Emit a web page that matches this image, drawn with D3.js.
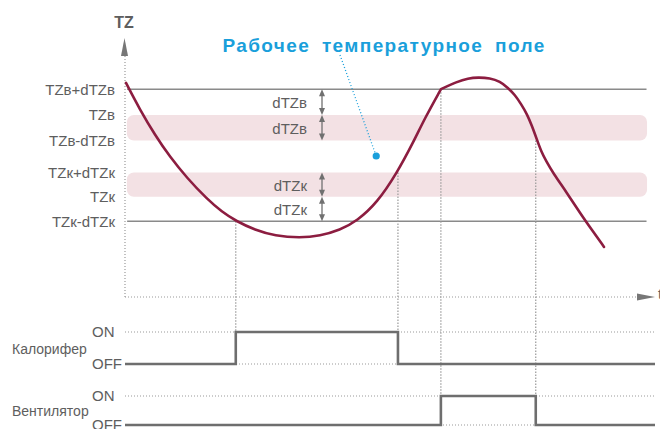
<!DOCTYPE html>
<html>
<head>
<meta charset="utf-8">
<script src="https://cdn.jsdelivr.net/npm/d3@7"></script>
<style>
  html, body { margin: 0; padding: 0; background: #fff; }
  svg { display: block; font-family: "Liberation Sans", Arial, sans-serif; }
</style>
</head>
<body>
<svg id="chart" width="660" height="429"></svg>
<script>
// Temperature levels (in dTZ units) and their labels
const levelLabels = ["TZк-dTZк", "TZк", "TZк+dTZк", "TZв-dTZв", "TZв", "TZв+dTZв"];
const levelValues = [0, 1, 2, 3.3, 4.35, 5.4];

// Shaded tolerance bands [low, high]
const bandLow  = [3.3, 1];
const bandHigh = [4.35, 2];

// dTZ spans drawn as double arrows
const spanFrom   = [5.4, 4.35, 2, 1];
const spanTo     = [4.35, 3.3, 1, 0];
const spanLabels = ["dTZв", "dTZв", "dTZк", "dTZк"];

// Room temperature over time (the fan switch-on moment is repeated to keep its corner sharp)
const curveT = [0.19, 2.83, 5.66, 8.49, 11.70, 15.47, 18.30, 20.94, 24.53, 28.30, 33.02, 36.79, 40.57, 43.77,
                47.55, 51.32, 54.34, 56.60, 59.62, 59.62, 59.62,
                62.64, 64.72, 66.60, 68.87, 70.75, 72.26, 73.58, 74.72, 75.85, 76.79, 77.74,
                78.49, 79.43, 80.75, 83.40, 85.85, 88.11, 90.38];
const curveV = [5.66, 4.56, 3.53, 2.63, 1.77, 0.91, 0.38, 0.01, -0.36, -0.60, -0.68, -0.60, -0.36, 0.01,
                0.75, 1.98, 3.21, 4.23, 5.41, 5.41, 5.41,
                5.71, 5.85, 5.89, 5.86, 5.72, 5.46, 5.17, 4.80, 4.39, 3.90, 3.33,
                2.88, 2.47, 1.98, 1.16, 0.34, -0.36, -1.05];

// Heater (Калорифер) and fan (Вентилятор) switching
const heaterT = [0, 20.9, 51.5, 100];
const heaterS = ["OFF", "ON", "OFF", "OFF"];
const fanT = [0, 59.6, 77.5, 100];
const fanS = ["OFF", "ON", "OFF", "OFF"];

// Switching events: time, temperature level that triggers it, device, state line the guide reaches
const eventT = [20.9, 51.5, 59.6, 77.5];
const eventV = [0, 2, 5.4, 3.3];
const eventDev = ["heater", "heater", "fan", "fan"];
const eventState = ["ON", "OFF", "OFF", "OFF"];

const states = ["ON", "OFF"];

const svg = d3.select("#chart");

const x = d3.scaleLinear().domain([0, 100]).range([125, 655]);
const y = d3.scaleLinear().domain([-3.1, 7.5]).range([297, 38]);
const yHeater = d3.scalePoint().domain(states).range([332, 364]);
const yFan = d3.scalePoint().domain(states).range([396, 425]);
const devScale = { heater: yHeater, fan: yFan };

const gray = "#5e5e5e";
const lineGray = "#8a8a8a";
const dotGray = "#999";
const curveColor = "#8c1d40";
const blue = "#1a9fdb";

// Tolerance bands
svg.append("g").selectAll("rect")
  .data(d3.range(bandLow.length))
  .join("rect")
  .attr("x", x(0.35))
  .attr("width", x(98.5) - x(0.35))
  .attr("y", i => y(bandHigh[i]))
  .attr("height", i => y(bandLow[i]) - y(bandHigh[i]))
  .attr("rx", 7)
  .attr("fill", "#f3e1e4");

// Limit lines
const limits = [levelValues[0], levelValues[5]];
svg.append("g").selectAll("line")
  .data(limits)
  .join("line")
  .attr("x1", x(0.4)).attr("x2", x(98.4))
  .attr("y1", d => y(d)).attr("y2", d => y(d))
  .attr("stroke", lineGray).attr("stroke-width", 1.5);

// Level labels
svg.append("g").selectAll("text")
  .data(levelValues)
  .join("text")
  .attr("x", 115)
  .attr("y", d => y(d))
  .attr("dy", "0.35em")
  .attr("text-anchor", "end")
  .attr("font-size", 15)
  .attr("fill", gray)
  .text((d, i) => levelLabels[i]);

// Axes (dotted) with arrowheads
svg.append("line")
  .attr("x1", x(0)).attr("x2", x(0))
  .attr("y1", y(-3.1)).attr("y2", 56)
  .attr("stroke", dotGray).attr("stroke-width", 1.2).attr("stroke-dasharray", "1,2");
svg.append("path")
  .attr("d", `M${x(0) - 0.5},38 L${x(0) + 3},56 L${x(0) - 4},56 Z`)
  .attr("fill", "#777");
svg.append("text")
  .attr("x", x(0) - 1).attr("y", 28)
  .attr("text-anchor", "middle")
  .attr("font-size", 16).attr("font-weight", "bold")
  .attr("fill", gray).text("TZ");

svg.append("line")
  .attr("x1", x(0)).attr("x2", 637)
  .attr("y1", y(-3.1)).attr("y2", y(-3.1))
  .attr("stroke", dotGray).attr("stroke-width", 1.2).attr("stroke-dasharray", "1,2");
svg.append("path")
  .attr("d", `M637,${y(-3.1) - 3.5} L655,${y(-3.1)} L637,${y(-3.1) + 3.5} Z`)
  .attr("fill", "#777");
svg.append("text")
  .attr("x", 658).attr("y", y(-3.1) + 2)
  .attr("font-size", 15).attr("fill", gray).text("t");

// Switching event guides
svg.append("g").selectAll("line")
  .data(d3.range(eventT.length))
  .join("line")
  .attr("x1", i => x(eventT[i])).attr("x2", i => x(eventT[i]))
  .attr("y1", i => y(eventV[i]))
  .attr("y2", i => devScale[eventDev[i]](eventState[i]))
  .attr("stroke", dotGray).attr("stroke-width", 1.2).attr("stroke-dasharray", "1.5,1.5");

// dTZ double arrows and labels
const arrowX = 322;
const spans = svg.append("g");
d3.range(spanFrom.length).forEach(i => {
  const y1 = y(spanFrom[i]), y2 = y(spanTo[i]);
  spans.append("line")
    .attr("x1", arrowX).attr("x2", arrowX)
    .attr("y1", y1 + 3).attr("y2", y2 - 3)
    .attr("stroke", "#707070").attr("stroke-width", 1.3);
  spans.append("path")
    .attr("d", `M${arrowX},${y1} L${arrowX + 3},${y1 + 7} L${arrowX - 3},${y1 + 7} Z`)
    .attr("fill", "#707070");
  spans.append("path")
    .attr("d", `M${arrowX},${y2} L${arrowX + 3},${y2 - 7} L${arrowX - 3},${y2 - 7} Z`)
    .attr("fill", "#707070");
  spans.append("text")
    .attr("x", 307).attr("y", (y1 + y2) / 2 + 1)
    .attr("dy", "0.35em")
    .attr("text-anchor", "end")
    .attr("font-size", 15)
    .attr("fill", gray)
    .text(spanLabels[i]);
});

// Temperature curve
const line = d3.line()
  .x((d, i) => x(curveT[i]))
  .y((d, i) => y(curveV[i]))
  .curve(d3.curveBasis);
svg.append("path")
  .attr("d", line(curveT))
  .attr("fill", "none")
  .attr("stroke", curveColor)
  .attr("stroke-width", 2.6)
  .attr("stroke-linecap", "round")
  .attr("stroke-linejoin", "round");

// Working field annotation
const notePoint = [47.4, 2.67];
svg.append("line")
  .attr("x1", 340).attr("y1", 55)
  .attr("x2", x(notePoint[0])).attr("y2", y(notePoint[1]))
  .attr("stroke", blue).attr("stroke-width", 1.3).attr("stroke-dasharray", "1,2.2");
svg.append("circle")
  .attr("cx", x(notePoint[0])).attr("cy", y(notePoint[1]))
  .attr("r", 3.6).attr("fill", blue);
svg.append("text")
  .attr("x", 384).attr("y", 52)
  .attr("text-anchor", "middle")
  .attr("font-size", 19).attr("font-weight", "bold")
  .attr("letter-spacing", 1.4)
  .attr("word-spacing", 5)
  .attr("fill", blue)
  .text("Рабочее температурное поле");

// Device state panels
function drawDevice(name, scale, times, st) {
  const g = svg.append("g");
  g.selectAll("line.level")
    .data(states)
    .join("line")
    .attr("class", "level")
    .attr("x1", x(0)).attr("x2", x(100))
    .attr("y1", d => scale(d)).attr("y2", d => scale(d))
    .attr("stroke", dotGray).attr("stroke-width", 1.2).attr("stroke-dasharray", "1,2");
  g.selectAll("text.state")
    .data(states)
    .join("text")
    .attr("class", "state")
    .attr("x", 92).attr("y", d => scale(d))
    .attr("dy", "0.35em")
    .attr("font-size", 15)
    .attr("fill", gray)
    .text(d => d);
  g.append("text")
    .attr("x", 12).attr("y", (scale("ON") + scale("OFF")) / 2 + 1)
    .attr("dy", "0.35em")
    .attr("font-size", 14)
    .attr("fill", gray)
    .text(name);
  const step = d3.line()
    .x((d, i) => x(times[i]))
    .y((d, i) => scale(st[i]))
    .curve(d3.curveStepAfter);
  g.append("path")
    .attr("d", step(times))
    .attr("fill", "none")
    .attr("stroke", "#6e6e6e")
    .attr("stroke-width", 2.6);
}
drawDevice("Калорифер", yHeater, heaterT, heaterS);
drawDevice("Вентилятор", yFan, fanT, fanS);
</script>
</body>
</html>
